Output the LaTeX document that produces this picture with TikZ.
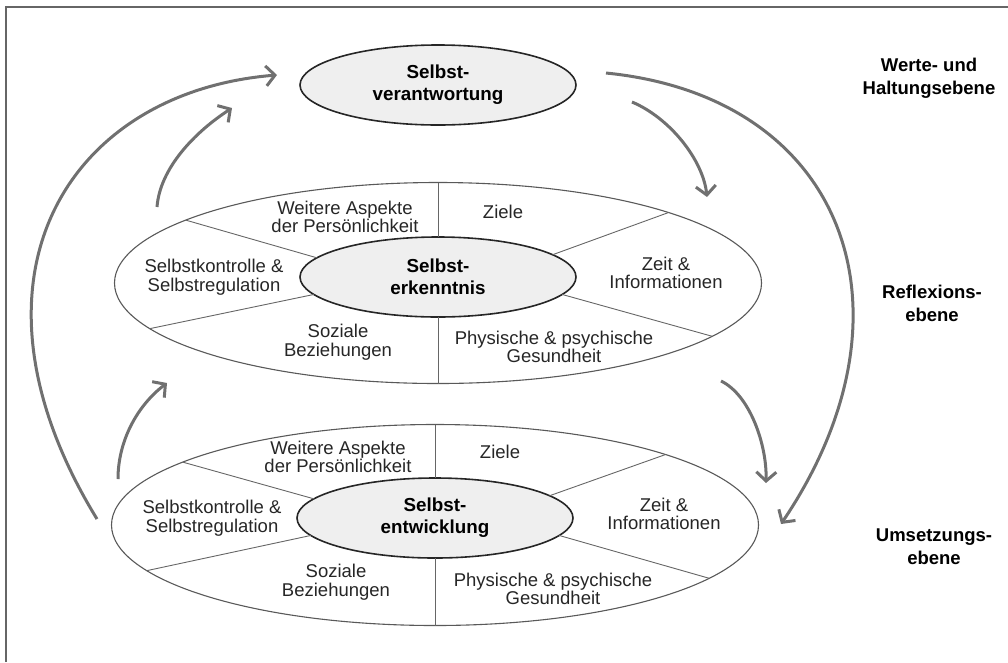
\documentclass[tikz,border=0pt]{standalone}
\usepackage{fontspec}
\setmainfont{Liberation Sans}
\usetikzlibrary{shapes.geometric, arrows.meta, positioning}
\definecolor{pfeil}{HTML}{707070}
\definecolor{kern}{HTML}{EFEFEF}
\tikzset{
  ring/.style={ellipse, draw=black!65, line width=1.1pt, minimum width=647pt, minimum height=201pt, inner sep=0pt, outer sep=0pt},
  kernel/.style={ellipse, draw=black!85, line width=1.6pt, fill=kern, minimum width=276pt, minimum height=80pt, inner sep=0pt, outer sep=0pt, align=center, font=\fontsize{18.8}{22}\selectfont\bfseries},
  feld/.style={align=center, text=black!85, font=\fontsize{18.5}{18.5}\selectfont},
  trenn/.style={draw=black!60, line width=0.9pt},
  ebene/.style={align=center, font=\fontsize{18.5}{23}\selectfont\bfseries},
  flow/.style={draw=pfeil, line width=3pt, -{Straight Barb[length=9pt,width=20pt]}},
}

\begin{document}
\begin{tikzpicture}[x=1pt, y=-1pt]
\useasboundingbox (0,0) rectangle (1008,662);
\draw[black!60, line width=1.5pt] (6,662) -- (6,7) -- (1008,7);

% Werte- und Haltungsebene
\node[kernel] (verant) at (438,85) {Selbst-\\verantwortung};

% Reflexionsebene
\node[ring] (refl) at (438,283) {};
\node[kernel] (erk) at (438,277) {Selbst-\\erkenntnis};
\draw[trenn] (refl.90) -- (erk.90);
\draw[trenn] (erk.270) -- (refl.270);
\draw[trenn] (refl.166) -- (erk.171);
\draw[trenn] (refl.189) -- (erk.188);
\draw[trenn] (refl.17) -- (erk.11);
\draw[trenn] (refl.349) -- (erk.352);
\node[feld] (r-weit) at (345,217) {Weitere Aspekte\\der Persönlichkeit};
\node[feld] (r-ziele) at (503,212) {Ziele};
\node[feld] (r-kontr) at (214,277) {Selbstkontrolle \&\\Selbstregulation};
\node[feld] (r-zeit) at (666,273) {Zeit \&\\Informationen};
\node[feld] (r-soz) at (338,342) {Soziale\\Beziehungen};
\node[feld] (r-phys) at (554,347) {Physische \& psychische\\Gesundheit};

% Umsetzungsebene
\node[ring] (ums) at (435,525) {};
\node[kernel] (entw) at (435,518) {Selbst-\\entwicklung};
\draw[trenn] (ums.90) -- (entw.90);
\draw[trenn] (entw.270) -- (ums.270);
\draw[trenn] (ums.166) -- (entw.171);
\draw[trenn] (ums.189) -- (entw.188);
\draw[trenn] (ums.17) -- (entw.11);
\draw[trenn] (ums.349) -- (entw.352);
\node[feld] (u-weit) at (338,457) {Weitere Aspekte\\der Persönlichkeit};
\node[feld] (u-ziele) at (500,452) {Ziele};
\node[feld] (u-kontr) at (212,518) {Selbstkontrolle \&\\Selbstregulation};
\node[feld] (u-zeit) at (664,514) {Zeit \&\\Informationen};
\node[feld] (u-soz) at (336,582) {Soziale\\Beziehungen};
\node[feld] (u-phys) at (553,589) {Physische \& psychische\\Gesundheit};

% Ebenen
\node[ebene] (werte) at (929,78) {Werte- und\\Haltungsebene};
\node[ebene] (reflex) at (932,303) {Reflexions-\\ebene};
\node[ebene] (umsetz) at (934,547) {Umsetzungs-\\ebene};

% Pfeile
\coordinate (lo-a) at (97,519);   \coordinate (lo-b) at (277,75);
\coordinate (ro-a) at (606,73);   \coordinate (ro-b) at (781,524);
\coordinate (l1-a) at (157,207);  \coordinate (l1-b) at (232,108);
\coordinate (r1-a) at (632,102);  \coordinate (r1-b) at (707,197);
\coordinate (l2-a) at (118,479);  \coordinate (l2-b) at (167,383);
\coordinate (r2-a) at (721,381);  \coordinate (r2-b) at (766,483);
\draw[flow] (lo-a) .. controls (-50,279) and (67,92) .. (lo-b);
\draw[flow] (ro-a) .. controls (846,97) and (924,312) .. (ro-b);
\draw[flow] (l1-a) .. controls (160,168) and (195,132) .. (l1-b);
\draw[flow] (r1-a) .. controls (670,118) and (703,160) .. (r1-b);
\draw[flow] (l2-a) .. controls (118,440) and (138,405) .. (l2-b);
\draw[flow] (r2-a) .. controls (750,395) and (767,445) .. (r2-b);
\end{tikzpicture}
\end{document}
